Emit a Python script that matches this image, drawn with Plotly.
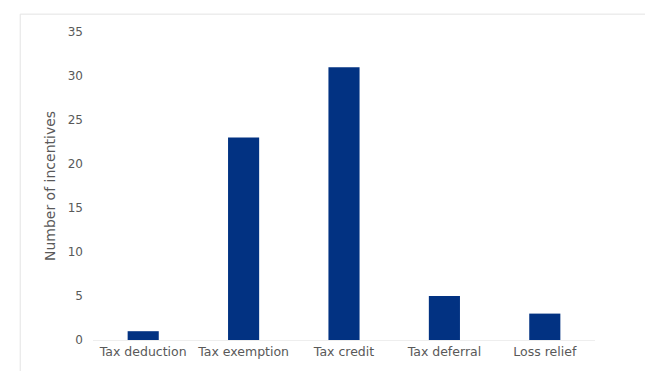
import plotly.graph_objects as go

categories = ["Tax deduction", "Tax exemption", "Tax credit", "Tax deferral", "Loss relief"]
values = [1, 23, 31, 5, 3]
y_ticks = [0, 5, 10, 15, 20, 25, 30, 35]

fig = go.Figure(go.Bar(x=categories, y=values, marker=dict(color="#023282", line=dict(width=0)), width=0.31))

fig.update_layout(
    width=645, height=363,
    margin=dict(l=85, r=58, t=24, b=31),
    paper_bgcolor="white", plot_bgcolor="white",
    font=dict(family="DejaVu Sans", size=12, color="#595959"),
    showlegend=False,
    shapes=[dict(type="rect", xref="paper", yref="paper",
                 x0=-0.145, x1=1.12, y0=-0.2, y1=1.058,
                 line=dict(color="#e3e3e3", width=1), fillcolor="rgba(0,0,0,0)")],
)
fig.update_xaxes(showgrid=False, showline=True, linecolor="#eeeeee", linewidth=1, ticks="",
                 tickfont=dict(size=12.5))
fig.update_yaxes(range=[0, 35], tickvals=y_ticks, showgrid=False, zeroline=False, showline=False,
                 ticklabelstandoff=9,
                 title=dict(text="Number of incentives", standoff=8, font=dict(size=14)),
                 tickfont=dict(size=12))

fig.write_html("out.html")
